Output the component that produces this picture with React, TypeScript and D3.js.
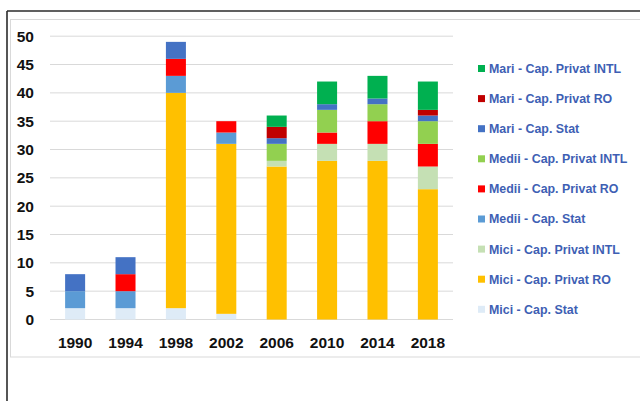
import React from "react";
import * as d3 from "d3";

const categories = ["1990", "1994", "1998", "2002", "2006", "2010", "2014", "2018"];
const miciStat = [2, 2, 2, 1, 0, 0, 0, 0];
const miciRO = [0, 0, 38, 30, 27, 28, 28, 23];
const miciINTL = [0, 0, 0, 0, 1, 3, 3, 4];
const mediiStat = [3, 3, 3, 2, 0, 0, 0, 0];
const mediiRO = [0, 3, 3, 2, 0, 2, 4, 4];
const mediiINTL = [0, 0, 0, 0, 3, 4, 3, 4];
const mariStat = [3, 3, 3, 0, 1, 1, 1, 1];
const mariRO = [0, 0, 0, 0, 2, 0, 0, 1];
const mariINTL = [0, 0, 0, 0, 2, 4, 4, 5];
const yTicks = [0, 5, 10, 15, 20, 25, 30, 35, 40, 45, 50];

const seriesNames = [
  "Mici - Cap. Stat",
  "Mici - Cap. Privat RO",
  "Mici - Cap. Privat INTL",
  "Medii - Cap. Stat",
  "Medii - Cap. Privat RO",
  "Medii - Cap. Privat INTL",
  "Mari - Cap. Stat",
  "Mari - Cap. Privat RO",
  "Mari - Cap. Privat INTL",
];
const seriesValues = [miciStat, miciRO, miciINTL, mediiStat, mediiRO, mediiINTL, mariStat, mariRO, mariINTL];
const seriesColors = [
  "#DEEBF7",
  "#FFC000",
  "#C5E0B4",
  "#5B9BD5",
  "#FF0000",
  "#92D050",
  "#4472C4",
  "#C00000",
  "#00B050",
];

export default function App() {
  const rows = categories.map((c, i) => {
    const r: Record<string, any> = { cat: c };
    seriesNames.forEach((s, j) => (r[s] = seriesValues[j][i]));
    return r;
  });
  const stacked = d3.stack<any>().keys(seriesNames)(rows);
  const x = d3.scaleBand().domain(categories).range([50, 453]).paddingInner(0.603).paddingOuter(0.3);
  const y = d3.scaleLinear().domain([0, 50]).range([319.5, 36.2]);
  const font = "'Liberation Sans', Arial, sans-serif";
  const legendOrder = seriesNames.map((_, i) => i).reverse();

  return (
    <svg width={640} height={401} style={{ position: "absolute", left: 0, top: 0, background: "#fff" }}>
      <rect x={0} y={0} width={640} height={401} fill="#fff" />
      {/* outer dark frame */}
      <line x1={7} y1={11} x2={640} y2={11} stroke="#2b2b2b" strokeWidth={1.6} />
      <line x1={7} y1={11} x2={7} y2={401} stroke="#2b2b2b" strokeWidth={1.6} />
      {/* inner light box */}
      <rect x={10.5} y={19.5} width={640} height={337.5} fill="#fff" stroke="#d9d9d9" strokeWidth={1} />
      {yTicks.map((t) => (
        <g key={t}>
          <line x1={50} x2={453} y1={y(t)} y2={y(t)} stroke="#d9d9d9" strokeWidth={1} />
          <text
            x={34}
            y={y(t)}
            dy="0.36em"
            textAnchor="end"
            fontFamily={font}
            fontWeight="bold"
            fontSize={15.5}
            fill="#111"
          >
            {t}
          </text>
        </g>
      ))}
      {stacked.map((layer, j) => (
        <g key={layer.key} fill={seriesColors[j]}>
          {layer.map((d, i) =>
            d[1] - d[0] > 0 ? (
              <rect
                key={i}
                x={x(categories[i])}
                width={x.bandwidth()}
                y={y(d[1])}
                height={y(d[0]) - y(d[1])}
              />
            ) : null
          )}
        </g>
      ))}
      {categories.map((c) => (
        <text
          key={c}
          x={(x(c) as number) + x.bandwidth() / 2}
          y={342}
          dy="0.36em"
          textAnchor="middle"
          fontFamily={font}
          fontWeight="bold"
          fontSize={15.5}
          fill="#111"
        >
          {c}
        </text>
      ))}
      {legendOrder.map((j, k) => {
        const cy = 68.5 + k * 30.1;
        return (
          <g key={j}>
            <rect x={478} y={cy - 3.5} width={7} height={7} fill={seriesColors[j]} />
            <text
              x={489}
              y={cy}
              dy="0.36em"
              fontFamily={font}
              fontWeight="bold"
              fontSize={12.4}
              fill="#3E5FB4"
            >
              {seriesNames[j]}
            </text>
          </g>
        );
      })}
    </svg>
  );
}
